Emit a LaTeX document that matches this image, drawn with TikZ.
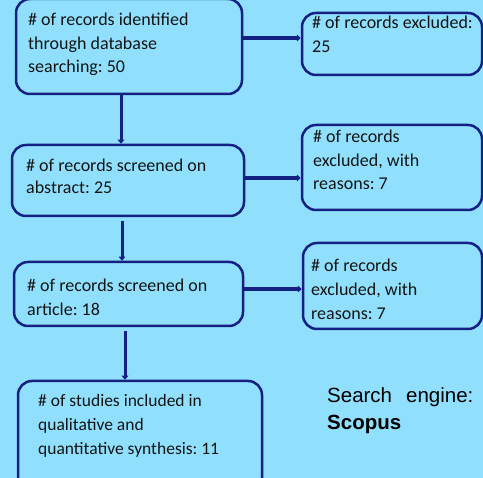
\documentclass[tikz,border=0pt]{standalone}
\usepackage{fontspec}
\setmainfont{Carlito}
\newfontfamily\arialf{Liberation Sans}
\usetikzlibrary{arrows.meta}
\frenchspacing
\definecolor{bgblue}{RGB}{144,224,253}
\definecolor{navy}{RGB}{20,32,130}
\tikzset{
  box/.style={draw=navy, line width=2.5pt, rounded corners=14pt, fill=bgblue, inner sep=0pt},
  txt/.style={anchor=base west, inner sep=0pt, align=left, text=black!92,
    font=\fontsize{18}{23.5}\selectfont},
  arr/.style={draw=navy, line width=3.5pt, -{Triangle[length=4pt,width=7pt]}},
  varr/.style={draw=navy, line width=3pt, -{Triangle[length=4pt,width=6.5pt]}},
}
\begin{document}
\begin{tikzpicture}[x=1pt,y=-1pt]
\fill[bgblue] (0,0) rectangle (483,478);
\useasboundingbox (0,0) rectangle (483,478);
% boxes
\node[box, minimum width=226pt, minimum height=95pt] (b1) at (129,46.5) {};
\node[box, minimum width=180pt, minimum height=62pt] (b2) at (392,44) {};
\node[box, minimum width=232pt, minimum height=71pt] (b3) at (128,180.5) {};
\node[box, minimum width=180pt, minimum height=85pt] (b4) at (392,167.5) {};
\node[box, minimum width=229pt, minimum height=64pt] (b5) at (128.5,294) {};
\node[box, minimum width=179pt, minimum height=86pt] (b6) at (392.5,286) {};
\node[box, minimum width=244pt, minimum height=111pt] (b7) at (140,436.5) {};
% texts (anchor = baseline of last line)
\node[txt] (t1) at (28,73) {\# of records identified\\through database\\searching: 50};
\node[txt, font=\fontsize{18}{24}\selectfont] (t2) at (312,53) {\# of records excluded:\\25};
\node[txt, font=\fontsize{18}{22.5}\selectfont] (t3) at (26,194) {\# of records screened on\\abstract: 25};
\node[txt] (t4) at (313,190) {\# of records\\excluded, with\\reasons: 7};
\node[txt, font=\fontsize{18}{24}\selectfont] (t5) at (27,316) {\# of records screened on\\article: 18};
\node[txt, font=\fontsize{18}{24}\selectfont] (t6) at (311,320) {\# of records\\excluded, with\\reasons: 7};
\node[txt, font=\fontsize{17.5}{24}\selectfont] (t7) at (38,455) {\# of studies included in\\qualitative and\\quantitative synthesis: 11};
\node[anchor=base west, inner sep=0pt, align=left, font=\arialf\fontsize{20.5}{27}\selectfont] (se) at (327,430)
  {Search\hspace{14pt}engine:\\\textbf{Scopus}};
% connectors
\draw[arr] (b1.east |- 0,38) -- (b2.west |- 0,38);
\draw[arr] (b3.east |- 0,178) -- (b4.west |- 0,178);
\draw[arr] (b5.east |- 0,289) -- (b6.west |- 0,289);
\draw[varr] (b1.south -| 121,0) -- (b3.north -| 121,0);
\draw[varr, shorten <=4pt] (b3.south -| 122,0) -- (b5.north -| 122,0);
\draw[varr, shorten <=4pt] (b5.south -| 125,0) -- (b7.north -| 125,0);
\end{tikzpicture}
\end{document}
